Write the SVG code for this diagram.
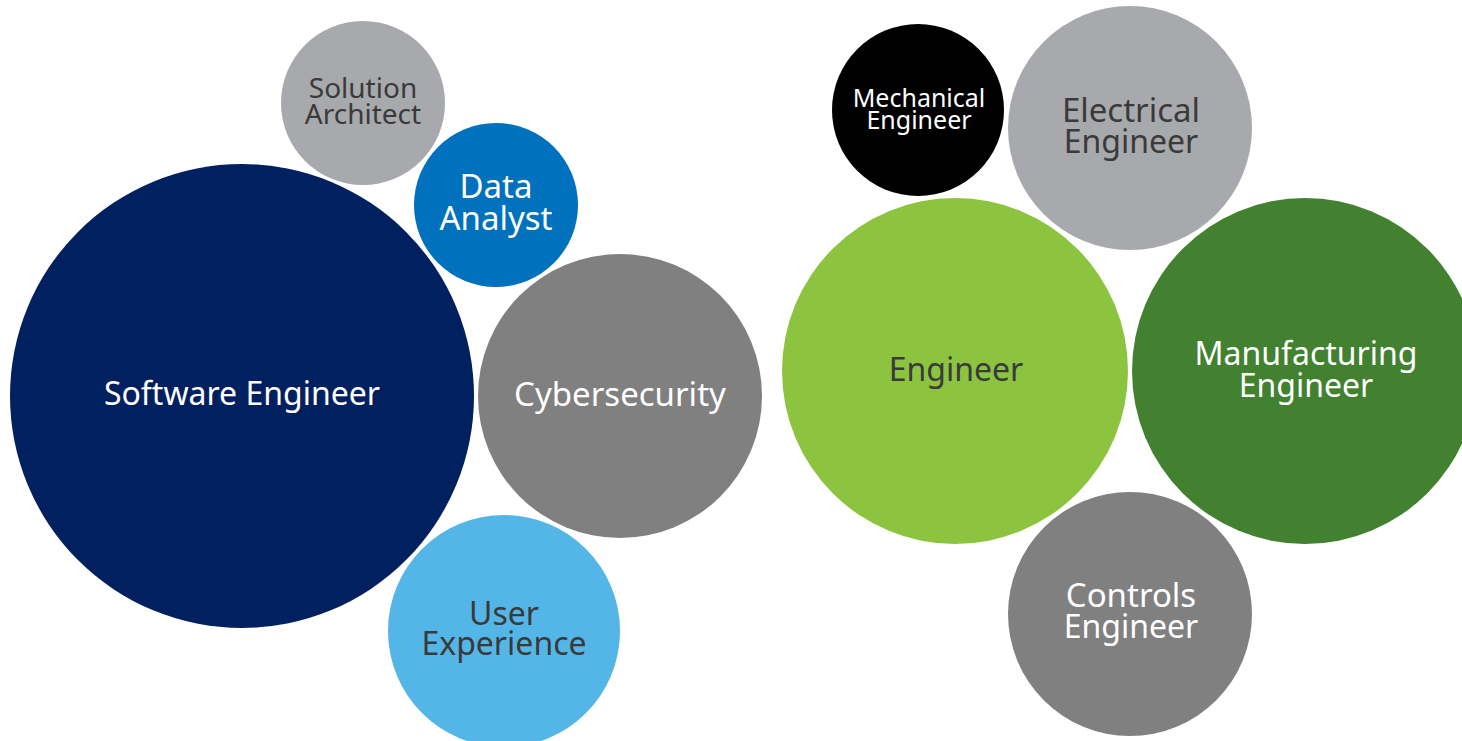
<svg xmlns="http://www.w3.org/2000/svg" width="1462" height="741" viewBox="0 0 1462 741">
<style>
text{font-family:"Noto Sans","Open Sans","Liberation Sans",sans-serif;text-anchor:middle;font-size:32px}
.w{fill:#ffffff}
.d{fill:#3a3a3a}
.s28{font-size:28px}
.s25{font-size:25px}
.s33{font-size:33px}
</style>
<rect width="1462" height="741" fill="#ffffff"/>
<g id="software-engineer"><circle cx="242" cy="396" r="232" fill="#012060"/><text class="w" x="242" y="405">Software Engineer</text></g>
<g id="solution-architect"><circle cx="363" cy="103" r="82" fill="#A7A9AC"/><text class="d s28" x="363" y="98">Solution</text><text class="d s28" x="363" y="124">Architect</text></g>
<g id="data-analyst"><circle cx="496" cy="205" r="82" fill="#0071BC"/><text class="w s33" x="496" y="198">Data</text><text class="w s33" x="496" y="230">Analyst</text></g>
<g id="cybersecurity"><circle cx="620" cy="396" r="142" fill="#808080"/><text class="w s33" x="620" y="406">Cybersecurity</text></g>
<g id="user-experience"><circle cx="504" cy="631" r="116" fill="#54B6E6"/><text class="d" x="504" y="625">User</text><text class="d" x="504" y="655">Experience</text></g>
<g id="mechanical-engineer"><circle cx="918" cy="110" r="86" fill="#000000"/><text class="w s25" x="919" y="107">Mechanical</text><text class="w s25" x="919" y="129">Engineer</text></g>
<g id="electrical-engineer"><circle cx="1130" cy="128" r="122" fill="#A7A9AC"/><text class="d s33" x="1131" y="122">Electrical</text><text class="d" x="1131" y="153">Engineer</text></g>
<g id="engineer"><circle cx="955" cy="371" r="173" fill="#8CC43F"/><text class="d" x="956" y="381">Engineer</text></g>
<g id="manufacturing-engineer"><circle cx="1305" cy="371" r="173" fill="#41812F"/><text class="w" x="1306" y="365">Manufacturing</text><text class="w" x="1306" y="397">Engineer</text></g>
<g id="controls-engineer"><circle cx="1130" cy="614" r="122" fill="#808080"/><text class="w s33" x="1131" y="607">Controls</text><text class="w" x="1131" y="638">Engineer</text></g>
<g id="connectors"></g>
</svg>
